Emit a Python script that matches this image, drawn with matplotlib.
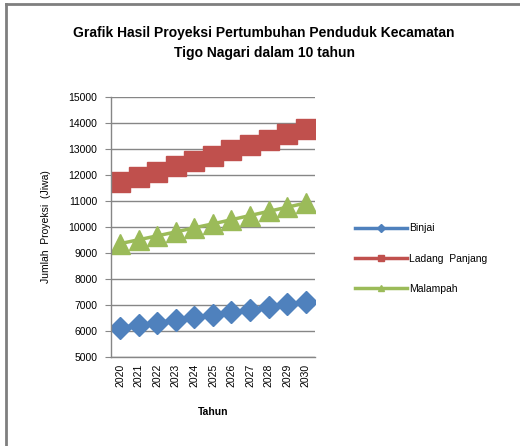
import matplotlib.pyplot as plt
from matplotlib.lines import Line2D

years = ['2020', '2021', '2022', '2023', '2024', '2025', '2026', '2027', '2028', '2029', '2030']
binjai = [6130, 6230, 6320, 6420, 6520, 6610, 6720, 6820, 6920, 7030, 7130]
ladang_panjang = [11730, 11920, 12120, 12330, 12530, 12720, 12950, 13170, 13360, 13570, 13750]
malampah = [9360, 9510, 9660, 9810, 9970, 10120, 10280, 10440, 10600, 10760, 10920]

blue = '#4F81BD'
red = '#C0504D'
green = '#9BBB59'
font = 'Liberation Sans'

fig = plt.figure(figsize=(5.2, 4.46), dpi=100)
ax = fig.add_axes([0.2135, 0.1996, 0.392, 0.583])

x = list(range(len(years)))
ax.plot(x, binjai, color=blue, lw=2.5, marker='D', ms=11)
ax.plot(x, ladang_panjang, color=red, lw=2.5, marker='s', ms=15)
ax.plot(x, malampah, color=green, lw=2.5, marker='^', ms=15)

ax.set_ylim(5000, 15000)
ax.set_yticks(range(5000, 15001, 1000))
ax.set_yticklabels([str(v) for v in range(5000, 15001, 1000)], fontsize=7.5, family=font)
ax.set_xlim(-0.5, len(years) - 0.5)
ax.set_xticks(x)
ax.set_xticklabels(years, rotation=90, fontsize=7.5, family=font)
ax.tick_params(axis='x', length=0, pad=5)
ax.tick_params(axis='y', length=4, color='#888888', pad=6)
ax.grid(axis='y', color='#868686', lw=1)
ax.set_axisbelow(True)
for s in ['top', 'right']:
    ax.spines[s].set_visible(False)
for s in ['left', 'bottom']:
    ax.spines[s].set_color('#868686')
    ax.spines[s].set_linewidth(1)

ax.set_ylabel('Jumlah  Proyeksi  (Jiwa)', fontsize=7.5, family=font, labelpad=12)
ax.set_xlabel('Tahun', fontsize=7.5, family=font, fontweight='bold', labelpad=14)

fig.text(0.508, 0.904, 'Grafik Hasil Proyeksi Pertumbuhan Penduduk Kecamatan\nTigo Nagari dalam 10 tahun',
         ha='center', va='center', fontsize=10, family=font, fontweight='bold', linespacing=1.5)

handles = [
    Line2D([], [], color=blue, lw=2.5, marker='D', ms=4),
    Line2D([], [], color=red, lw=2.5, marker='s', ms=5),
    Line2D([], [], color=green, lw=2.5, marker='^', ms=5),
]
fig.legend(handles, ['Binjai', 'Ladang  Panjang', 'Malampah'], loc='center left',
           bbox_to_anchor=(0.665, 0.42), frameon=False, prop={'family': font, 'size': 7.5},
           handlelength=5.0, handletextpad=0.2, labelspacing=1.95)

# chart border
fig.add_artist(Line2D([6 / 520, 6 / 520], [0, 1 - 4 / 446], transform=fig.transFigure, color='#7f7f7f', lw=2))
fig.add_artist(Line2D([6 / 520, 1], [1 - 4 / 446, 1 - 4 / 446], transform=fig.transFigure, color='#7f7f7f', lw=2))

fig.savefig('out.png', dpi=100)
